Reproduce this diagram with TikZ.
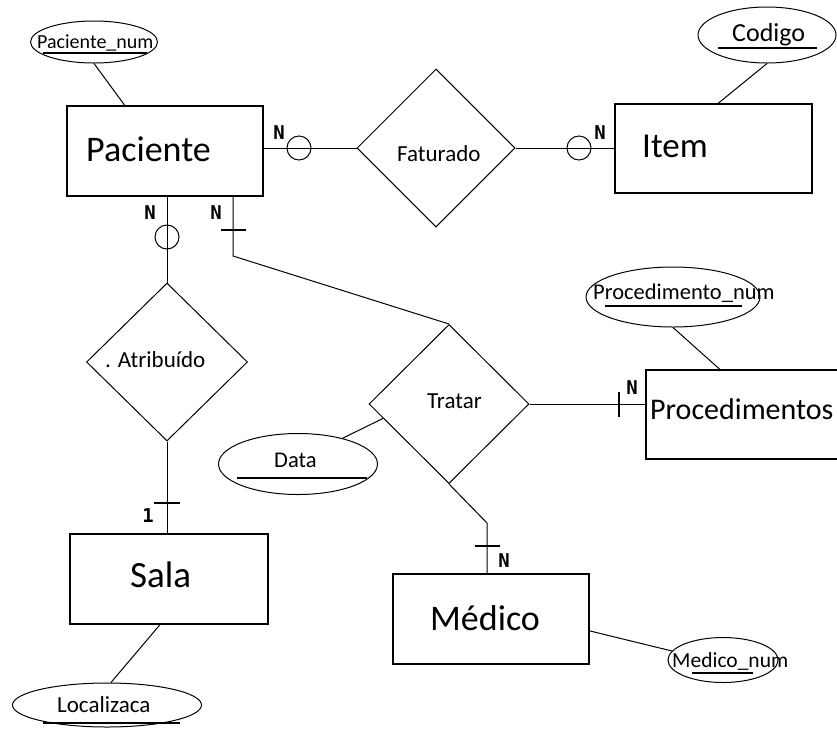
\documentclass[tikz,border=0pt]{standalone}
\usepackage{fontspec}
\setmainfont{Carlito}
\newfontfamily\cardfont{DejaVu Sans Mono}
\usetikzlibrary{shapes.geometric,calc}
\tikzset{
  ent/.style={draw, line width=1.2pt, inner sep=0pt, rectangle},
  rel/.style={draw, line width=1pt, diamond, inner sep=0pt},
  attr/.style={draw, line width=1pt, ellipse, inner sep=0pt},
  circ/.style={draw, line width=1pt, circle, fill=white, minimum size=24pt, inner sep=0pt},
  conn/.style={line width=1pt},
  tick/.style={line width=1.2pt},
  uline/.style={line width=1.6pt},
  lab/.style={anchor=base west, inner sep=0pt},
  card/.style={inner sep=0pt, font=\cardfont\bfseries\fontsize{19}{19}\selectfont},
}
\begin{document}
\begin{tikzpicture}[x=1pt,y=-1pt]
\useasboundingbox (0,0) rectangle (837,729);
\clip (0,0) rectangle (837,729);
\fill[white] (0,0) rectangle (837,729);

% entities
\node[ent, minimum width=196pt, minimum height=90pt] (pac) at (165,151) {};
\node[ent, minimum width=197pt, minimum height=89pt] (item) at (713.5,148.5) {};
\node[ent, minimum width=198pt, minimum height=90pt] (sala) at (169,579) {};
\node[ent, minimum width=196pt, minimum height=90pt] (med) at (491,619) {};
\node[ent, minimum width=204pt, minimum height=89pt] (proc) at (748,414.5) {};

\node[lab, font=\fontsize{36}{40}\selectfont] (pacl) at (86,161) {Paciente};
\node[lab, font=\fontsize{35}{40}\selectfont] (iteml) at (642,157) {Item};
\node[lab, font=\fontsize{37}{40}\selectfont] (salal) at (130,587) {Sala};
\node[lab, font=\fontsize{36}{40}\selectfont] (medl) at (430,630) {Médico};
\node[lab, font=\fontsize{30}{34}\selectfont] (procl) at (650,419) {Procedimentos};

% relationships
\node[rel, minimum width=158pt, minimum height=158pt] (fat) at (436,148) {};
\node[rel, minimum width=161pt, minimum height=158pt] (atr) at (167,362) {};
\node[rel, minimum width=160pt, minimum height=159pt] (tra) at (449,404) {};

\node[lab, font=\fontsize{23}{26}\selectfont] (fatl) at (397,161) {Faturado};
\node[lab, font=\fontsize{23}{26}\selectfont] (atrl) at (105,367) {. Atribuído};
\node[lab, font=\fontsize{23}{26}\selectfont] (tral) at (427,408) {Tratar};

% attributes
\node[attr, minimum width=127pt, minimum height=42pt] (pnum) at (94,42) {};
\node[attr, minimum width=138pt, minimum height=56pt] (cod) at (767,35) {};
\node[attr, minimum width=174pt, minimum height=60pt] (prnum) at (673,297) {};
\node[attr, minimum width=159pt, minimum height=61pt] (data) at (298,464) {};
\node[attr, minimum width=110pt, minimum height=45pt] (mnum) at (723,660) {};
\node[attr, minimum width=189pt, minimum height=44pt] (loc) at (107,705) {};

\node[lab, font=\fontsize{20}{24}\selectfont] (pnuml) at (37,48) {Paciente\_num};
\node[lab, font=\fontsize{26}{30}\selectfont] (codl) at (732,41) {Codigo};
\node[lab, font=\fontsize{22.5}{26}\selectfont] (prnuml) at (593,299) {Procedimento\_num};
\node[lab, font=\fontsize{22.5}{26}\selectfont] (datal) at (274,467) {Data};
\node[lab, font=\fontsize{21.5}{26}\selectfont] (mnuml) at (672,667) {Medico\_num};
\node[lab, font=\fontsize{23}{26}\selectfont] (locl) at (57,712) {Localizaca};

% underlines
\draw[uline] (43,53) -- (147,53);
\draw[uline] (718,48) -- (817,48);
\draw[uline] (605,306) -- (742,306);
\draw[uline] (237,478) -- (367,478);
\draw[uline] (692,673) -- (753,673);
\draw[uline] (43,723) -- (180,723);

% attribute connectors
\draw[conn] (pnum.south) -- ($(pac.north west)!0.296!(pac.north east)$);
\draw[conn] (cod.south) -- ($(item.north west)!0.523!(item.north east)$);
\draw[conn] (prnum.south) -- ($(proc.north west)!0.363!(proc.north east)$);
\draw[conn] (data.30) -- ($(tra.west)!0.18!(tra.south)$);
\draw[conn] ($(med.north east)!0.63!(med.south east)$) -- (mnum.170);
\draw[conn] ($(sala.south west)!0.455!(sala.south east)$) -- (loc.80);

% relationship connectors
\coordinate (bend) at (233,256);
\coordinate (mbend) at (487,523);
\draw[conn] (fat.west) -- (fat.west -| pac.east);
\draw[conn] (fat.east) -- (fat.east -| item.west);
\draw[conn] (atr.north) -- (atr.north |- pac.south);
\draw[conn] (tra.north) -- (bend) -- (bend |- pac.south);
\draw[conn] (atr.south) -- (atr.south |- sala.north);
\draw[conn] (tra.east) -- (tra.east -| proc.west);
\draw[conn] (tra.south) -- (mbend) -- (mbend |- med.north);

% optional circles
\node[circ] (c1) at (299,148) {};
\node[circ] (c2) at (579,148) {};
\node[circ] (c3) at (167,237) {};
\draw[conn] (c1.west) -- (c1.east);
\draw[conn] (c2.west) -- (c2.east);
\draw[conn] (c3.north) -- (c3.south);

% ticks
\draw[tick] (221,230) -- (246,230);
\draw[tick] (154,503) -- (180,503);
\draw[tick] (619,392) -- (619,417);
\draw[tick] (475,546) -- (500,546);

% cardinalities
\node[card] (n1) at (279,133) {N};
\node[card] (n2) at (600,133) {N};
\node[card] (n3) at (150,213) {N};
\node[card] (n4) at (216,213) {N};
\node[card] (n5) at (632,388) {N};
\node[card] (n6) at (504,561) {N};
\node[card] (n7) at (148,516) {1};
\end{tikzpicture}
\end{document}
